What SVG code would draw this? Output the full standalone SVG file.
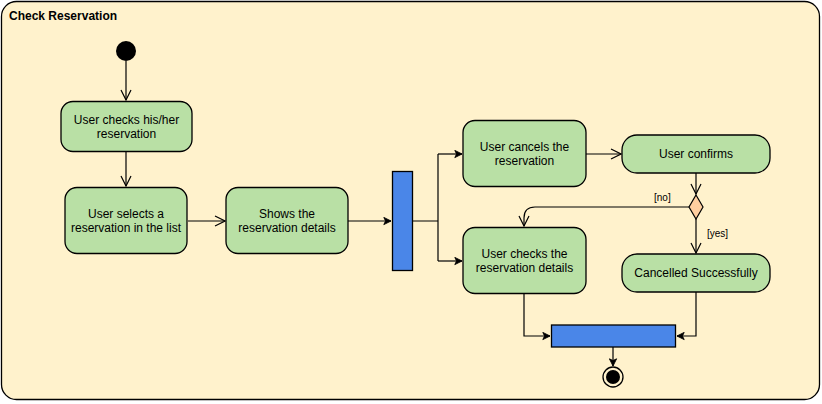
<svg xmlns="http://www.w3.org/2000/svg" width="822" height="404" viewBox="0 0 822 404">
<style>
.act{fill:#B9E0A5;stroke:#000;stroke-width:1.3}
.bar{fill:#4A86E8;stroke:#000;stroke-width:1.3}
.t{font-family:"Liberation Sans",Arial,sans-serif;font-size:12px;fill:#000;text-anchor:middle}
.lbl{font-family:"Liberation Sans",Arial,sans-serif;font-size:10px;fill:#000}
.c{fill:none;stroke:#000;stroke-width:1.2}
</style>
<defs>
<marker id="open" viewBox="0 0 12 12" refX="11" refY="6" markerWidth="12" markerHeight="12" markerUnits="userSpaceOnUse" orient="auto">
<path d="M1,1 L11,6 L1,11" fill="none" stroke="#000" stroke-width="1.2"/>
</marker>
<marker id="fill" viewBox="0 0 10 10" refX="9" refY="5" markerWidth="9" markerHeight="9" markerUnits="userSpaceOnUse" orient="auto">
<path d="M1,1 L9,5 L1,9 L3,5 Z" fill="#000" stroke="#000" stroke-width="1"/>
</marker>
</defs>
<g id="frame">
<rect x="1.5" y="1.5" width="818" height="398" rx="15" fill="#FFF2CC" stroke="#000" stroke-width="1.3"/>
<text x="9" y="20" font-family="'Liberation Sans',Arial,sans-serif" font-size="12" font-weight="bold">Check Reservation</text>
</g>
<g id="connectors">
<path class="c" d="M126,61 L126,100" marker-end="url(#open)"/>
<path class="c" d="M126,152 L126,186" marker-end="url(#open)"/>
<path class="c" d="M188,221 L225,221" marker-end="url(#open)"/>
<path class="c" d="M348,221 L391,221" marker-end="url(#fill)"/>
<path class="c" d="M412,221 L438,221 M438,154 L438,261"/>
<path class="c" d="M438,154 L462,154" marker-end="url(#fill)"/>
<path class="c" d="M438,261 L462,261" marker-end="url(#fill)"/>
<path class="c" d="M586,154 L621,154" marker-end="url(#open)"/>
<path class="c" d="M696,173 L696,194" marker-end="url(#open)"/>
<path class="c" d="M689,207 L535,207 Q524,207 524,218 L524,226" marker-end="url(#open)"/>
<path class="c" d="M696,219 L696,253" marker-end="url(#open)"/>
<path class="c" d="M524,294 L524,336 L550,336" marker-end="url(#fill)"/>
<path class="c" d="M696,292 L696,336 L677,336" marker-end="url(#fill)"/>
<path class="c" d="M613,347 L613,366" marker-end="url(#fill)"/>
<text class="lbl" x="654" y="201">[no]</text>
<text class="lbl" x="707" y="237">[yes]</text>
</g>
<g id="start"><circle cx="126" cy="51" r="10" fill="#000"/></g>
<g id="n1">
<rect class="act" x="61" y="101.5" width="131" height="50" rx="12"/>
<text class="t" x="126.5" y="124">User checks his/her</text>
<text class="t" x="126.5" y="138">reservation</text>
</g>
<g id="n2">
<rect class="act" x="65" y="187.5" width="122" height="66" rx="12"/>
<text class="t" x="126" y="218">User selects a</text>
<text class="t" x="126" y="232">reservation in the list</text>
</g>
<g id="n3">
<rect class="act" x="226" y="187.5" width="122" height="66" rx="12"/>
<text class="t" x="287" y="218">Shows the</text>
<text class="t" x="287" y="232">reservation details</text>
</g>
<g id="fork"><rect class="bar" x="392.5" y="171.5" width="20" height="99"/></g>
<g id="n4">
<rect class="act" x="463" y="120.5" width="123" height="66" rx="12"/>
<text class="t" x="524.5" y="151">User cancels the</text>
<text class="t" x="524.5" y="165">reservation</text>
</g>
<g id="n5">
<rect class="act" x="463" y="227.5" width="123" height="66" rx="12"/>
<text class="t" x="524.5" y="258">User checks the</text>
<text class="t" x="524.5" y="272">reservation details</text>
</g>
<g id="n6">
<rect class="act" x="622" y="135" width="148" height="38" rx="15"/>
<text class="t" x="696" y="158">User confirms</text>
</g>
<g id="decision"><path d="M696,195 L703,207 L696,219 L689,207 Z" fill="#FFCE9F" stroke="#000" stroke-width="1.2"/></g>
<g id="n7">
<rect class="act" x="622" y="254" width="148" height="38" rx="15"/>
<text class="t" x="696" y="277">Cancelled Successfully</text>
</g>
<g id="join"><rect class="bar" x="551.5" y="325" width="124" height="22"/></g>
<g id="end">
<circle cx="613" cy="377" r="10" fill="#FFF2CC" stroke="#000" stroke-width="1.3"/>
<circle cx="613" cy="377" r="7" fill="#000"/>
</g>
</svg>
